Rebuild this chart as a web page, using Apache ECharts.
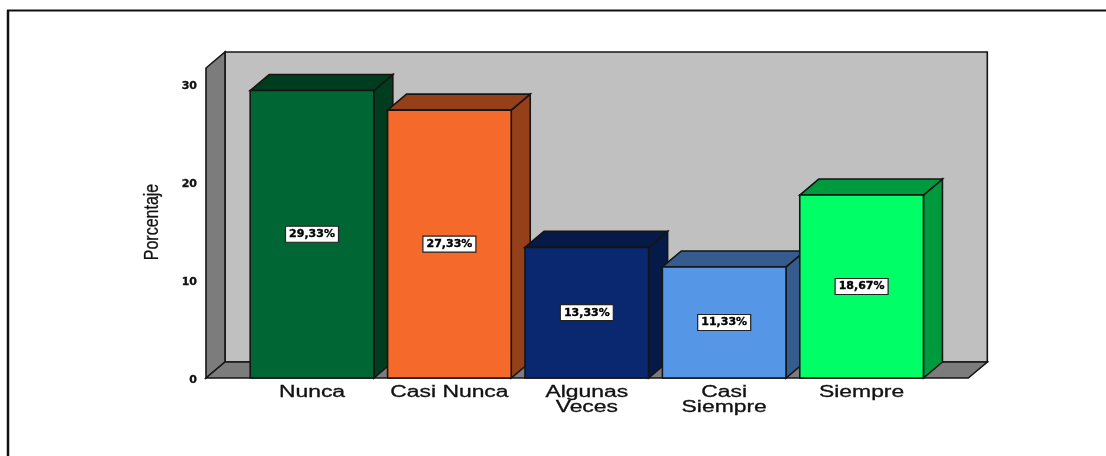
<!DOCTYPE html>
<html><head><meta charset="utf-8">
<style>html,body{margin:0;padding:0;background:#fff}#c{width:1106px;height:456px}</style>
<script src="https://cdn.jsdelivr.net/npm/echarts@6/dist/echarts.min.js"></script>
</head><body><div id="c"></div>
<script>
const categories = ['Nunca', 'Casi Nunca', 'Algunas\nVeces', 'Casi\nSiempre', 'Siempre'];
const values = [29.33, 27.33, 13.33, 11.33, 18.67];
const valueLabels = ['29,33%', '27,33%', '13,33%', '11,33%', '18,67%'];
const frontColors = ['#006633', '#F5692B', '#0A2870', '#5596E6', '#00FF66'];
const sideColors = ['#003D1F', '#964019', '#061A4A', '#365C8F', '#009A3E'];
const axisMax = 31.63;
const yTitle = 'Porcentaje';

const DX = 19, DY = 16, STROKE = '#151515';
const GL = 243.3, GW = 687, GT = 68, GH = 310;
const poly = (points, fill) => ({type: 'polygon', shape: {points}, style: {fill, stroke: STROKE, lineWidth: 1.6}});

function renderWalls(params, api) {
  const b = api.coord([0, 0])[1], t = api.coord([0, axisMax])[1];
  const l = GL - 37.3, r = GL + GW + 38;
  return {type: 'group', children: [
    poly([[l + DX, t - DY], [r + DX, t - DY], [r + DX, b - DY], [l + DX, b - DY]], '#C0C0C0'),
    poly([[l, t], [l + DX, t - DY], [l + DX, b - DY], [l, b]], '#7C7C7C'),
    poly([[l, b], [l + DX, b - DY], [r + DX, b - DY], [r, b]], '#7C7C7C'),
    {type: 'text', x: 152, y: (t + b) / 2 - 1, rotation: Math.PI / 2, scaleX: 0.8,
      style: {text: yTitle, align: 'center', verticalAlign: 'middle', font: '20px "Liberation Sans"',
        fill: '#111', stroke: '#111', lineWidth: 0.3}}
  ]};
}

function renderBar(params, api) {
  const i = api.value(0), v = api.value(1);
  const c = api.coord([i, v]), b = api.coord([i, 0])[1];
  const w = api.size([1, 0])[0] * 0.9;
  const x0 = c[0] - w / 2, x1 = c[0] + w / 2, t = c[1];
  const my = (t + b) / 2;
  return {type: 'group', children: [
    poly([[x1, t], [x1 + DX, t - DY], [x1 + DX, b - DY], [x1, b]], sideColors[i]),
    poly([[x0, t], [x0 + DX, t - DY], [x1 + DX, t - DY], [x1, t]], sideColors[i]),
    poly([[x0, t], [x1, t], [x1, b], [x0, b]], frontColors[i]),
    {type: 'rect', shape: {x: c[0] - 26.5, y: my - 8, width: 53, height: 16},
      style: {fill: '#fff', stroke: '#222', lineWidth: 1.2}},
    {type: 'text', x: c[0], y: my, style: {text: valueLabels[i], align: 'center', verticalAlign: 'middle',
      font: 'bold 11px "DejaVu Sans"', fill: '#000', stroke: '#000', lineWidth: 0.35}},
    {type: 'text', x: c[0], y: b + 7.5, scaleX: 1.43, style: {text: categories[i], align: 'center', verticalAlign: 'top',
      font: '16px "Liberation Sans"', lineHeight: 15, fill: '#111', stroke: '#111', lineWidth: 0.3}}
  ]};
}

const chart = echarts.init(document.getElementById('c'), null, {renderer: 'canvas'});
chart.setOption({
  animation: false,
  backgroundColor: '#fff',
  grid: {left: GL, width: GW, top: GT, height: GH},
  xAxis: {type: 'category', data: categories, axisLine: {show: false}, axisTick: {show: false}, axisLabel: {show: false}},
  yAxis: {
    type: 'value', min: 0, max: axisMax, interval: 10, offset: 37.3,
    axisLine: {show: false}, axisTick: {show: false}, splitLine: {show: false},
    axisLabel: {showMaxLabel: false, margin: 9, formatter: '{t|{value}}',
      rich: {t: {padding: [5, 0, 0, 0], fontFamily: 'DejaVu Sans', fontWeight: 'bold', fontSize: 11,
        color: '#111', textBorderColor: '#111', textBorderWidth: 0.35}}}
  },
  series: [
    {type: 'custom', renderItem: renderWalls, clip: false, silent: true, data: [[0, 0]], z: 1},
    {type: 'custom', renderItem: renderBar, clip: false, data: values.map((v, i) => [i, v]), z: 2,
      encode: {x: 0, y: 1}}
  ],
  graphic: [
    {type: 'line', shape: {x1: 7, y1: 10.5, x2: 1106, y2: 10.5}, style: {stroke: '#111', lineWidth: 2}},
    {type: 'line', shape: {x1: 8, y1: 10, x2: 8, y2: 456}, style: {stroke: '#111', lineWidth: 2.5}}
  ]
});
</script></body></html>
